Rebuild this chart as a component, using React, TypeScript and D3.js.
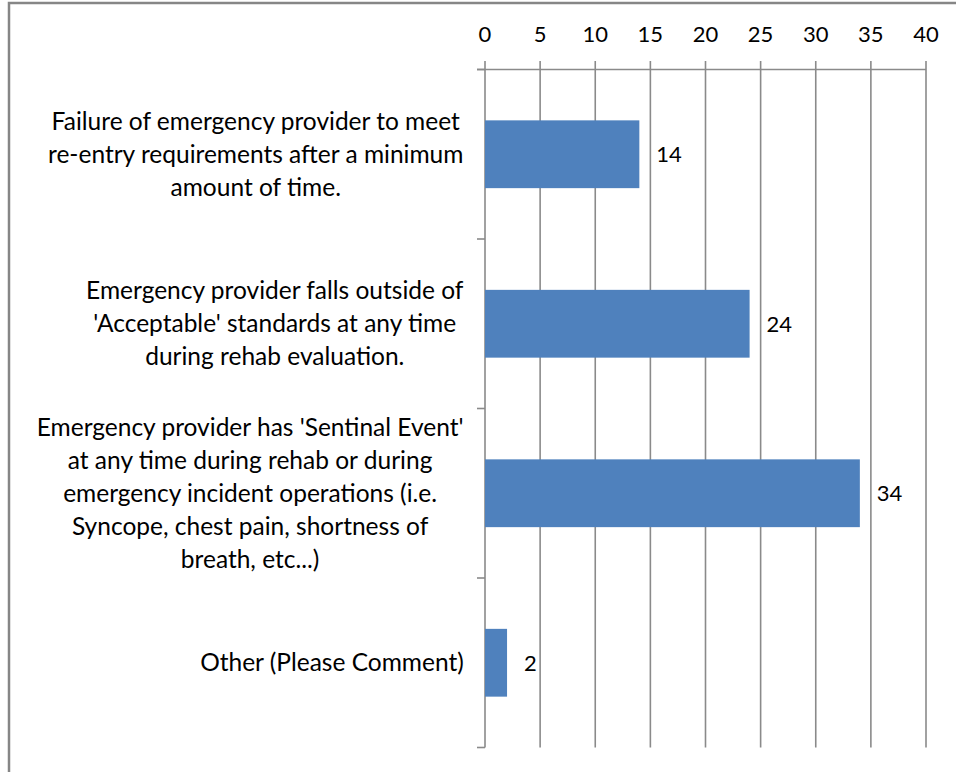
import React from "react";
import * as d3 from "d3";

// Category labels, already broken into their wrapped lines
const categoryLines: string[][] = [
  [
    "Failure of emergency provider to meet",
    "re-entry requirements after a minimum",
    "amount of time.",
  ],
  [
    "Emergency provider falls outside of",
    "'Acceptable' standards at any time",
    "during rehab evaluation.",
  ],
  [
    "Emergency provider has 'Sentinal Event'",
    "at any time during rehab or during",
    "emergency incident operations (i.e.",
    "Syncope, chest pain, shortness of",
    "breath, etc...)",
  ],
  ["Other (Please Comment)"],
];

const values: number[] = [14, 24, 34, 2];

const tickValues: number[] = [0, 5, 10, 15, 20, 25, 30, 35, 40];

const WIDTH = 956;
const HEIGHT = 772;
const FONT_FAMILY = "Lato, 'Noto Sans', sans-serif";
const LABEL_SIZE = 24.5;
const NUM_SIZE = 22;
const LINE_HEIGHT = 33;
const BAR_COLOR = "#4F81BD";
const GRID_COLOR = "#8a8a8a";

let measureCtx: CanvasRenderingContext2D | null = null;
function textWidth(s: string): number {
  if (!measureCtx) measureCtx = document.createElement("canvas").getContext("2d");
  if (!measureCtx) return s.length * LABEL_SIZE * 0.45;
  measureCtx.font = `${LABEL_SIZE}px Lato`;
  return measureCtx.measureText(s).width;
}

export default function App() {
  const x = d3.scaleLinear().domain([0, 40]).range([485, 926]);
  const y = d3
    .scaleBand<number>()
    .domain(values.map((_, i) => i))
    .range([69.5, 747.5])
    .padding(0);

  const band = y.bandwidth();
  const barH = band / 2.5; // gap width 150%
  const top = 69.5;
  const bottom = 747.5;
  const labelRight = 464;

  return (
    <svg
      width={WIDTH}
      height={HEIGHT}
      style={{ position: "absolute", left: 0, top: 0, background: "#fff" }}
      fontFamily={FONT_FAMILY}
    >
      <rect x={0} y={0} width={WIDTH} height={HEIGHT} fill="#fff" />
      {/* outer chart border */}
      <rect
        x={9}
        y={3}
        width={1100}
        height={1100}
        fill="none"
        stroke="#868686"
        strokeWidth={2.5}
      />

      {/* vertical gridlines with tick marks above the top axis */}
      {tickValues.map((t) => (
        <line
          key={`g${t}`}
          x1={x(t)}
          x2={x(t)}
          y1={61}
          y2={bottom}
          stroke={GRID_COLOR}
          strokeWidth={1.6}
        />
      ))}

      {/* top value axis line */}
      <line x1={477} x2={x(40)} y1={top} y2={top} stroke={GRID_COLOR} strokeWidth={1.6} />

      {/* category axis ticks */}
      {d3.range(values.length + 1).map((i) => {
        const yy = top + i * band;
        return (
          <line key={`c${i}`} x1={477} x2={x(0)} y1={yy} y2={yy} stroke={GRID_COLOR} strokeWidth={1.6} />
        );
      })}

      {/* tick labels */}
      {tickValues.map((t) => (
        <text key={`t${t}`} x={x(t)} y={42} textAnchor="middle" fill="#000" fontSize={NUM_SIZE}>
          {t}
        </text>
      ))}

      {/* bars */}
      {values.map((v, i) => {
        const cy = (y(i) as number) + band / 2;
        return (
          <rect
            key={`b${i}`}
            x={x(0)}
            y={cy - barH / 2}
            width={x(v) - x(0)}
            height={barH}
            fill={BAR_COLOR}
          />
        );
      })}

      {/* value labels */}
      {values.map((v, i) => {
        const cy = (y(i) as number) + band / 2;
        return (
          <text key={`v${i}`} x={x(v) + 17} y={cy} dy="0.36em" fill="#000" fontSize={NUM_SIZE}>
            {v}
          </text>
        );
      })}

      {/* category labels */}
      {categoryLines.map((lines, i) => {
        const cy = (y(i) as number) + band / 2;
        const blockW = Math.max(...lines.map(textWidth));
        const cx = labelRight - blockW / 2;
        const firstY = cy - ((lines.length - 1) * LINE_HEIGHT) / 2;
        return (
          <text key={`l${i}`} textAnchor="middle" fill="#000" fontSize={LABEL_SIZE}>
            {lines.map((ln, j) => (
              <tspan key={j} x={cx} y={firstY + j * LINE_HEIGHT} dy="0.34em">
                {ln}
              </tspan>
            ))}
          </text>
        );
      })}
    </svg>
  );
}
